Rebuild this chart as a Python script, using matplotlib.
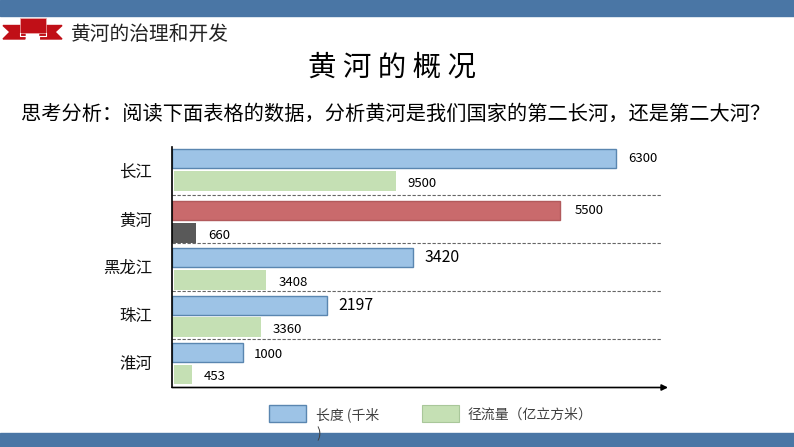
import matplotlib

matplotlib.use("Agg")
import matplotlib.pyplot as plt
from matplotlib.patches import Polygon, Rectangle

plt.rcParams["font.family"] = ["Noto Sans CJK SC", "DejaVu Sans"]

rivers = ["长江", "黄河", "黑龙江", "珠江", "淮河"]
length_km = [6300, 5500, 3420, 2197, 1000]
runoff = [9500, 660, 3408, 3360, 453]
# runoff bars are not to scale in the original, so these are the lengths as drawn
runoff_drawn = [3175, 340, 1340, 1265, 285]

W, H = 794, 447
BAND = "#4a76a5"
BLUE, BLUE_EDGE = "#9dc3e6", "#5a86b0"
GREEN = "#c5e0b4"

# full-width punctuation, written as escapes so it can't get lost
COLON, COMMA, QMARK, LP, RP = "\uff1a", "\uff0c", "\uff1f", "\uff08", "\uff09"

fig = plt.figure(figsize=(W / 100, H / 100), dpi=100)

# overlay in pixel coordinates for the slide furniture
bg = fig.add_axes([0, 0, 1, 1])
bg.set_xlim(0, W); bg.set_ylim(H, 0); bg.axis("off")
bg.add_patch(Rectangle((0, 0), W, 16, color=BAND))
bg.add_patch(Rectangle((0, 432.5), W, 15, color=BAND))

# ribbon
RED = "#c00f17"
bg.add_patch(Polygon([(3, 25.5), (25, 25.5), (25, 39), (3, 39), (10, 32)], color=RED))
bg.add_patch(Polygon([(62, 25.5), (40, 25.5), (40, 39), (62, 39), (55, 32)], color=RED))
bg.add_patch(Rectangle((19.5, 18), 26, 15, fc=RED, ec="#f0b0b0", lw=0.5, zorder=3))
bg.plot([19.5, 19.5, 26, 26], [33, 36, 36, 39], color="white", lw=0.8, zorder=3)
bg.plot([45.5, 45.5, 39, 39], [33, 36, 36, 39], color="white", lw=0.8, zorder=3)

bg.text(71, 34.5, "黄河的治理和开发", fontsize=14.2, color="#222222", va="center", fontweight="light")
bg.text(392.5, 68, "黄 河 的 概 况", fontsize=20.5, color="black", ha="center", va="center")
question = ("思考分析" + COLON + "阅读下面表格的数据" + COMMA
            + "分析黄河是我们国家的第二长河" + COMMA + "还是第二大河" + QMARK)
bg.text(21, 114, question, fontsize=14.55, color="black", va="center", fontweight="medium")

# legend
bg.add_patch(Rectangle((269, 405), 36.5, 16.5, fc=BLUE, ec=BLUE_EDGE, lw=1))
bg.add_patch(Rectangle((422, 404.5), 36.5, 17.5, fc=GREEN, ec="#a9c79a", lw=0.8))
bg.text(316, 415, "长度 (千米", fontsize=10, color="#404040", va="center")
bg.text(316, 434, ")", fontsize=10, color="#404040", va="center")
bg.text(468, 415, "径流量" + LP + "亿立方米" + RP, fontsize=10, color="#404040", va="center")

# chart: x in value units, y in pixels so the uneven rows can follow the slide
X0, X1, Y0, Y1 = 172, 668, 147, 387.5
PX_PER_UNIT = 0.0705
ax = fig.add_axes([X0 / W, 1 - Y1 / H, (X1 - X0) / W, (Y1 - Y0) / H])
ax.patch.set_alpha(0)
ax.set_xlim(0, (X1 - X0) / PX_PER_UNIT)
ax.set_ylim(Y1, Y0)
ax.set_xticks([]); ax.set_yticks([])
for side in ("top", "right"):
    ax.spines[side].set_visible(False)
ax.spines["left"].set_linewidth(1.2)

len_y = [158.8, 210.3, 257.2, 306, 352.8]
run_y = [181, 232.8, 280, 327, 374.5]
row_y = [172.5, 221, 268, 316.5, 365]
run_left = [25, 0, 25, 0, 25]
label_size = [9.5, 9.5, 11.4, 11.4, 9.5]
len_pad = [8.6, 10.8, 8.0, 8.0, 8.0]
len_drop = [0, 0, 0, 0, -1.2]

for i, name in enumerate(rivers):
    face, edge = (BLUE, BLUE_EDGE) if i != 1 else ("#c96a6c", "#b25a5c")
    ax.barh(len_y[i], length_km[i], height=19, color=face, edgecolor=edge, lw=1)
    rface = GREEN if i != 1 else "#595959"
    ax.barh(run_y[i], runoff_drawn[i] - run_left[i], left=run_left[i], height=19.5, color=rface)
    ax.annotate(str(length_km[i]), (length_km[i], len_y[i]), xytext=(len_pad[i], len_drop[i]),
                textcoords="offset points", va="center", fontsize=label_size[i])
    ax.annotate(str(runoff[i]), (runoff_drawn[i], run_y[i]), xytext=(8.6, -1.6),
                textcoords="offset points", va="center", fontsize=9.5)
    bg.text(152, row_y[i], name, fontsize=11.8, ha="right", va="center", color="#111111")

for y in [195.5, 243.5, 291, 339]:
    ax.plot([0, (662 - X0) / PX_PER_UNIT], [y, y], color="#666666", lw=0.8, ls=(0, (3, 1.5)))

ax.spines["bottom"].set_visible(False)
ax.annotate("", xy=(1.0, 0), xytext=(0, 0), xycoords="axes fraction",
            arrowprops=dict(arrowstyle="-|>", color="black", lw=1.2, shrinkA=0, shrinkB=0,
                            mutation_scale=9), annotation_clip=False)

fig.savefig("out.png", dpi=100)
